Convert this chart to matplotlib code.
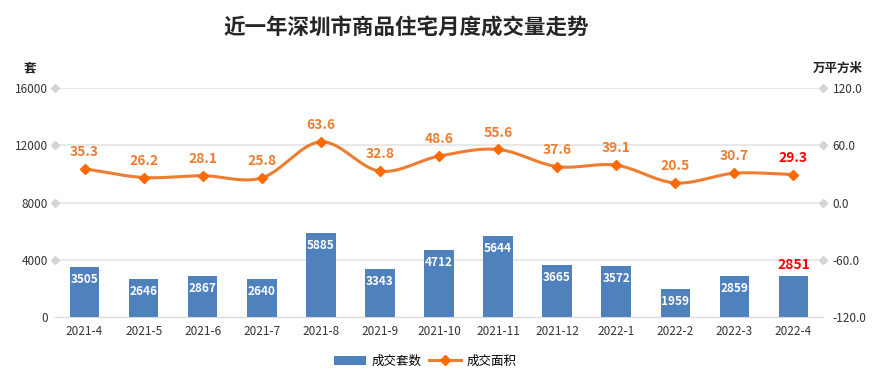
import numpy as np
from matplotlib import pyplot as plt

plt.rcParams['font.family'] = ['Noto Sans CJK SC', 'DejaVu Sans']

months = ['2021-4', '2021-5', '2021-6', '2021-7', '2021-8', '2021-9', '2021-10',
          '2021-11', '2021-12', '2022-1', '2022-2', '2022-3', '2022-4']
units = [3505, 2646, 2867, 2640, 5885, 3343, 4712, 5644, 3665, 3572, 1959, 2859, 2851]
area = [35.3, 26.2, 28.1, 25.8, 63.6, 32.8, 48.6, 55.6, 37.6, 39.1, 20.5, 30.7, 29.3]
left_ticks = [0, 4000, 8000, 12000, 16000]
right_ticks = [-120, -60, 0, 60, 120]

bar_c = '#4F81BD'
line_c = '#ED7D31'
mark_c = '#FF6A00'
red = '#FF0000'


def smooth(x, y, n=20):
    # catmull-rom curve through the points, just for drawing the line
    x = np.asarray(x, float)
    y = np.asarray(y, float)
    px = np.concatenate([[2 * x[0] - x[1]], x, [2 * x[-1] - x[-2]]])
    py = np.concatenate([[2 * y[0] - y[1]], y, [2 * y[-1] - y[-2]]])
    xs, ys = [], []
    t = np.linspace(0, 1, n, endpoint=False)
    for i in range(1, len(px) - 2):
        for p, out in ((px, xs), (py, ys)):
            p0, p1, p2, p3 = p[i - 1], p[i], p[i + 1], p[i + 2]
            out.extend(0.5 * (2 * p1 + (-p0 + p2) * t + (2 * p0 - 5 * p1 + 4 * p2 - p3) * t ** 2
                              + (-p0 + 3 * p1 - 3 * p2 + p3) * t ** 3))
    xs.append(x[-1])
    ys.append(y[-1])
    return np.array(xs), np.array(ys)


fig = plt.figure(figsize=(8.84, 3.76), dpi=100)
ax = fig.add_axes([55 / 884, 59 / 376, 768 / 884, 229 / 376])
ax2 = ax.twinx()

x = np.arange(len(months))
ax.bar(x, units, width=0.5, color=bar_c, zorder=2, label='成交套数')
ax.set_xlim(-0.5, len(months) - 0.5)
ax.set_ylim(0, 16000)
ax.set_yticks(left_ticks)
ax.set_xticks(x)
ax.set_xticklabels(months)
ax.tick_params(length=0, labelsize=8.5, colors='#333333')
ax.tick_params(axis='y', pad=5)
ax.tick_params(axis='x', pad=6)
for v in left_ticks[1:]:
    ax.axhline(v, color='#E4E4E4', lw=1.2, zorder=1)
    ax.plot([0, 1], [v, v], ls='none', marker='D', ms=4, color='#D4D4D4',
            transform=ax.get_yaxis_transform(), clip_on=False, zorder=1)
for s in ['top', 'left', 'right']:
    ax.spines[s].set_visible(False)
ax.spines['bottom'].set_color('#D9D9D9')

for i, v in enumerate(units):
    if i == len(units) - 1:
        ax.annotate(str(v), (i, v), xytext=(0, 3), textcoords='offset points',
                    ha='center', va='bottom', color=red, fontsize=10, fontweight='bold')
    else:
        ax.annotate(str(v), (i, v), xytext=(0, -9), textcoords='offset points',
                    ha='center', va='center', color='white', fontsize=8.5, fontweight='bold')

sx, sy = smooth(x, area)
ax2.plot(sx, sy, color=line_c, lw=2.2, zorder=3)
ax2.plot(x, area, ls='none', marker='D', ms=5, color=mark_c, zorder=4)
ax2.set_ylim(-120, 120)
ax2.set_yticks(right_ticks)
ax2.set_yticklabels(['%.1f' % v for v in right_ticks])
ax2.tick_params(length=0, labelsize=8.5, colors='#333333', pad=7)
for s in ['top', 'left', 'right', 'bottom']:
    ax2.spines[s].set_visible(False)
for i, v in enumerate(area):
    c = red if i == len(area) - 1 else line_c
    ax2.annotate('%.1f' % v, (i, v), xytext=(0, 7), textcoords='offset points',
                 ha='center', va='bottom', color=c, fontsize=10, fontweight='bold')

fig.text(406 / 884, 1 - 28 / 376, '近一年深圳市商品住宅月度成交量走势', ha='center', va='center',
         fontsize=15.5, fontweight='bold', color='#262626')
fig.text(30 / 884, 1 - 68 / 376, '套', ha='center', va='center', fontsize=9,
         fontweight='bold', color='#222222')
fig.text(838 / 884, 1 - 68 / 376, '万平方米', ha='center', va='center', fontsize=9,
         fontweight='bold', color='#222222')

h1, l1 = ax.get_legend_handles_labels()
lh = plt.Line2D([], [], color=line_c, lw=2.2, marker='D', ms=5, mfc=mark_c, mec=mark_c)
fig.legend(h1 + [lh], l1 + ['成交面积'], loc='center', bbox_to_anchor=(425 / 884, 1 - 361 / 376),
           ncol=2, frameon=False, fontsize=9, handlelength=2.6, columnspacing=0.6,
           handletextpad=0.4)

fig.savefig('out.png', dpi=100)
